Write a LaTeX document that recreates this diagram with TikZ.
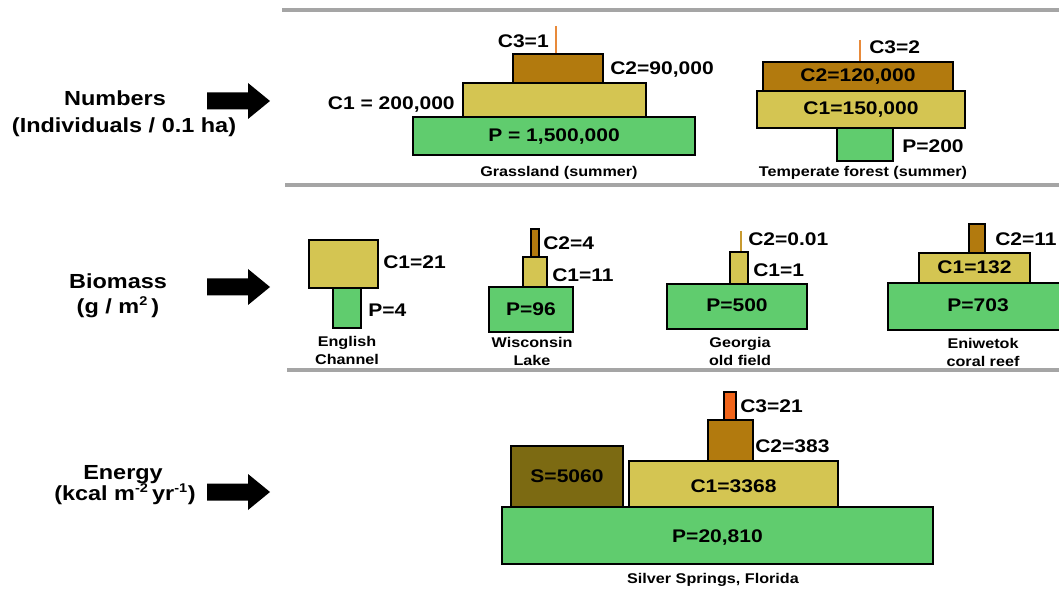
\documentclass[tikz,border=0pt]{standalone}
\usepackage{fontspec}
\setmainfont{Liberation Sans}[FakeStretch=1.15]
\usepackage{tikz}
\usetikzlibrary{shapes,arrows}

\definecolor{prodgreen}{RGB}{96,204,110}
\definecolor{consA}{RGB}{212,197,82}
\definecolor{consB}{RGB}{178,122,14}
\definecolor{consC}{RGB}{240,100,26}
\definecolor{decomp}{RGB}{124,106,18}
\definecolor{rulegray}{RGB}{165,165,165}
\definecolor{thinorange}{RGB}{232,138,58}
\definecolor{thintan}{RGB}{200,154,48}
\newcommand{\px}{0.025cm}

\begin{document}
\begin{tikzpicture}[x=\px, y=-\px, font=\bfseries]
\tikzstyle{level}=[draw=black, line width=2pt, inner sep=0pt, text height=0.72em, text depth=0pt, font=\fontsize{13}{15}\selectfont\bfseries]
\tikzstyle{val}=[inner sep=0pt, text height=0.72em, text depth=0pt, font=\fontsize{13}{15}\selectfont\bfseries]
\tikzstyle{site}=[inner sep=0pt, align=center, font=\fontsize{10}{12.8}\selectfont\bfseries]
\tikzstyle{rowname}=[inner sep=0pt, text height=0.72em, text depth=0pt, font=\fontsize{14.5}{17}\selectfont\bfseries]
\tikzstyle{rule}=[line width=2.3pt, draw=rulegray]
\tikzstyle{tiny}=[line width=0.8pt]

\useasboundingbox (0,0) rectangle (1059,590);

% separators
\draw[rule] (282,10) -- (1059,10);
\draw[rule] (285,185) -- (1059,185);
\draw[rule] (287,370) -- (1059,370);

% row names and arrows
\node[rowname] (numT) at (115,100) {Numbers};
\node[rowname] (numU) at (124,127) {(Individuals / 0.1 ha)};
\node[rowname] (bioT) at (118,283) {Biomass};
\node[rowname] (bioU) at (118,308) {(g / m\textsuperscript{\fontsize{9}{9}\selectfont 2}\,)};
\node[rowname] (eneT) at (123,474) {Energy};
\node[rowname] (eneU) at (125,495) {(kcal m\textsuperscript{\fontsize{9}{9}\selectfont -2}\,yr\textsuperscript{\fontsize{9}{9}\selectfont -1})};
\foreach \y in {101,287,492}
  \fill (207,\y-8.5) -- (248,\y-8.5) -- (248,\y-18) -- (270,\y) -- (248,\y+18) -- (248,\y+8.5) -- (207,\y+8.5) -- cycle;

% grassland
\node[level, fill=prodgreen, minimum width=282*\px, minimum height=38*\px] (gP) at (554,136) {P = 1,500,000};
\node[level, fill=consA, minimum width=183*\px, minimum height=34*\px] (gC1) at (554.5,100) {};
\node[level, fill=consB, minimum width=90*\px, minimum height=29*\px] (gC2) at (558,68.5) {};
\coordinate (gC3) at (556,26);
\draw[tiny, thinorange] (gC3) -- (gC3 |- gC2.north);
\node[val, anchor=east] (gC3l) at (549,42) {C3=1};
\node[val, anchor=west] (gC2l) at (610,69) {C2=90,000};
\node[val, anchor=east] (gC1l) at (455,104) {C1 = 200,000};
\node[site] (gName) at (559,173) {Grassland (summer)};

% temperate forest
\node[level, fill=consB, minimum width=190*\px, minimum height=29*\px] (tC2) at (858,76.5) {C2=120,000};
\node[level, fill=consA, minimum width=208*\px, minimum height=37*\px] (tC1) at (861,109.5) {C1=150,000};
\node[level, fill=prodgreen, minimum width=56*\px, minimum height=33*\px] (tP) at (865,144.5) {};
\coordinate (tC3) at (860,40);
\draw[tiny, thinorange] (tC3) -- (tC3 |- tC2.north);
\node[val, anchor=west] (tC3l) at (869,48) {C3=2};
\node[val, anchor=west] (tPl) at (902,147) {P=200};
\node[site] (tName) at (863,173) {Temperate forest (summer)};

% english channel
\node[level, fill=consA, minimum width=69*\px, minimum height=48*\px] (eC1) at (343.5,264) {};
\node[level, fill=prodgreen, minimum width=28*\px, minimum height=40*\px] (eP) at (347,308) {};
\node[val, anchor=west] (eC1l) at (383,263) {C1=21};
\node[val, anchor=west] (ePl) at (368,311) {P=4};
\node[site] (eName) at (347,350) {English\\Channel};

% wisconsin lake
\node[level, fill=prodgreen, minimum width=84*\px, minimum height=45*\px, text height=0.9em] (wP) at (531,309.5) {P=96};
\node[level, fill=consA, minimum width=24*\px, minimum height=30*\px] (wC1) at (535,272) {};
\node[level, fill=consB, minimum width=8*\px, minimum height=28*\px] (wC2) at (535,243) {};
\node[val, anchor=west] (wC2l) at (543,244) {C2=4};
\node[val, anchor=west] (wC1l) at (552,276) {C1=11};
\node[site] (wName) at (532,351.5) {Wisconsin\\Lake};

% georgia old field
\node[level, fill=prodgreen, minimum width=140*\px, minimum height=45*\px] (oP) at (737,306.5) {P=500};
\node[level, fill=consA, minimum width=18*\px, minimum height=32*\px] (oC1) at (739,268) {};
\coordinate (oC2) at (741,231);
\draw[tiny, thintan] (oC2) -- (oC2 |- oC1.north);
\node[val, anchor=west] (oC2l) at (748,240) {C2=0.01};
\node[val, anchor=west] (oC1l) at (753,271) {C1=1};
\node[site] (oName) at (740,351) {Georgia\\old field};

% eniwetok coral reef
\node[level, fill=prodgreen, minimum width=180*\px, minimum height=47*\px] (rP) at (978,306.5) {P=703};
\node[level, fill=consA, minimum width=111*\px, minimum height=30*\px, text height=0.85em] (rC1) at (974.5,268) {C1=132};
\node[level, fill=consB, minimum width=16*\px, minimum height=29*\px] (rC2) at (977,238.5) {};
\node[val, anchor=west] (rC2l) at (995,240) {C2=11};
\node[site] (rName) at (983,352.5) {Eniwetok\\coral reef};

% silver springs
\node[level, fill=prodgreen, minimum width=431*\px, minimum height=57*\px, text height=1.05em] (sP) at (717.5,535.5) {P=20,810};
\node[level, fill=decomp, minimum width=112*\px, minimum height=61*\px, text height=0.9em] (sS) at (567,476.5) {S=5060};
\node[level, fill=consA, minimum width=209*\px, minimum height=46*\px, text height=1.2em] (sC1) at (733.5,484) {C1=3368};
\node[level, fill=consB, minimum width=45*\px, minimum height=41*\px] (sC2) at (730.5,440.5) {};
\node[level, fill=consC, minimum width=12*\px, minimum height=28*\px] (sC3) at (730,406) {};
\node[val, anchor=west] (sC3l) at (740,407) {C3=21};
\node[val, anchor=west] (sC2l) at (755,447) {C2=383};
\node[site] (sName) at (713,580) {Silver Springs, Florida};
\end{tikzpicture}
\end{document}
